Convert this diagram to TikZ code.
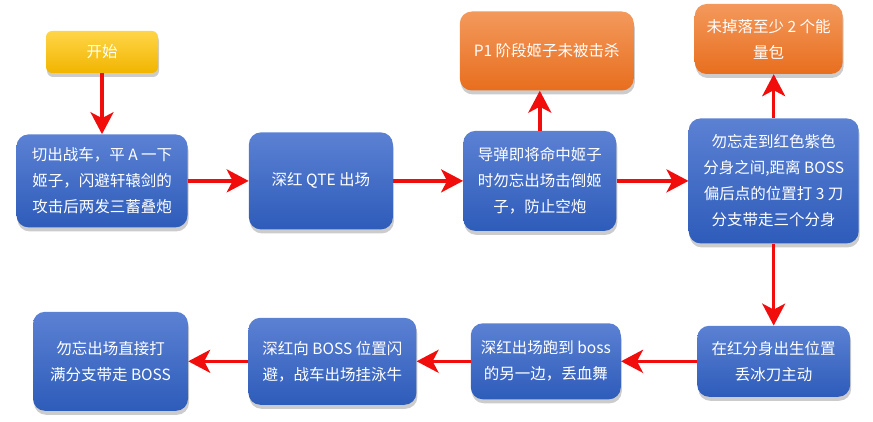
\documentclass[tikz,border=0pt]{standalone}
\usepackage{fontspec}
\setmainfont{Noto Sans CJK SC}
\usepackage{xcolor}
\usepackage{tikz}
\usetikzlibrary{arrows.meta,positioning,shadows}
\definecolor{flbleuh}{HTML}{5B81D3}
\definecolor{flbleub}{HTML}{2E5CBA}
\definecolor{florangeh}{HTML}{F3995C}
\definecolor{florangeb}{HTML}{E86E1E}
\definecolor{fljauneh}{HTML}{FFD548}
\definecolor{fljauneb}{HTML}{F1B500}
\definecolor{flrouge}{HTML}{F20D0D}

\begin{document}
\begin{tikzpicture}[
  x=1pt,y=1pt,
  node distance=60pt and 60pt,
  box/.style={rectangle,rounded corners=12pt,top color=flbleuh,bottom color=flbleub,
    inner sep=0pt,text=white,align=center,font=\fontsize{15.5}{26}\selectfont,
    drop shadow={opacity=0.4,shadow xshift=1pt,shadow yshift=-4pt}},
  cond/.style={box,top color=florangeh,bottom color=florangeb},
  debut/.style={box,top color=fljauneh,bottom color=fljauneb,rounded corners=6pt},
  fl/.style={-{Stealth[length=22pt,width=23pt,inset=6pt]},line width=3.4pt,flrouge}]
  \useasboundingbox (0,0) rectangle (873,421);
  % ligne du haut
  \node[debut,minimum width=112pt,minimum height=42pt] (start) at (102,369) {开始};
  \node[box,minimum width=171pt,minimum height=93pt,below=61pt of start] (b1)
    {切出战车，平 A 一下\\姬子，闪避轩辕剑的\\攻击后两发三蓄叠炮};
  \node[box,minimum width=144pt,minimum height=97pt,right=61pt of b1] (b2) {深红 QTE 出场};
  \node[box,minimum width=153pt,minimum height=100pt,right=70pt of b2] (b3)
    {导弹即将命中姬子\\时勿忘出场击倒姬\\子，防止空炮};
  \node[box,minimum width=170pt,minimum height=125pt,right=72pt of b3] (b4)
    {勿忘走到红色紫色\\分身之间,距离 BOSS\\偏后点的位置打 3 刀\\分支带走三个分身};
  % conditions
  \node[cond,minimum width=174pt,minimum height=79pt,above=40pt of b3,xshift=7pt] (p1)
    {P1 阶段姬子未被击杀};
  \node[cond,minimum width=148pt,minimum height=70pt,above=44pt of b4,xshift=-5pt] (en)
    {未掉落至少 2 个能\\量包};
  % ligne du bas (retour vers la gauche)
  \node[box,minimum width=153pt,minimum height=71pt,below=82pt of b4] (b5)
    {在红分身出生位置\\丢冰刀主动};
  \node[box,minimum width=150pt,minimum height=76pt,left=76pt of b5] (b6)
    {深红出场跑到 boss\\的另一边，丢血舞};
  \node[box,minimum width=168pt,minimum height=87pt,left=54pt of b6] (b7)
    {深红向 BOSS 位置闪\\避，战车出场挂泳牛};
  \node[box,minimum width=155pt,minimum height=99pt,left=60pt of b7] (b8)
    {勿忘出场直接打\\满分支带走 BOSS};
  % fleches
  \draw[fl] (start) -- (b1);
  \draw[fl] (b1) -- (b2);
  \draw[fl] (b2) -- (b3);
  \draw[fl] (b3) -- (b4);
  \draw[fl] (b3.north) -- (b3.north |- p1.south);
  \draw[fl] (b4.north) -- (b4.north |- en.south);
  \draw[fl] (b4) -- (b5);
  \draw[fl] (b5) -- (b6);
  \draw[fl] (b6) -- (b7);
  \draw[fl] (b7) -- (b8);
\end{tikzpicture}
\end{document}
